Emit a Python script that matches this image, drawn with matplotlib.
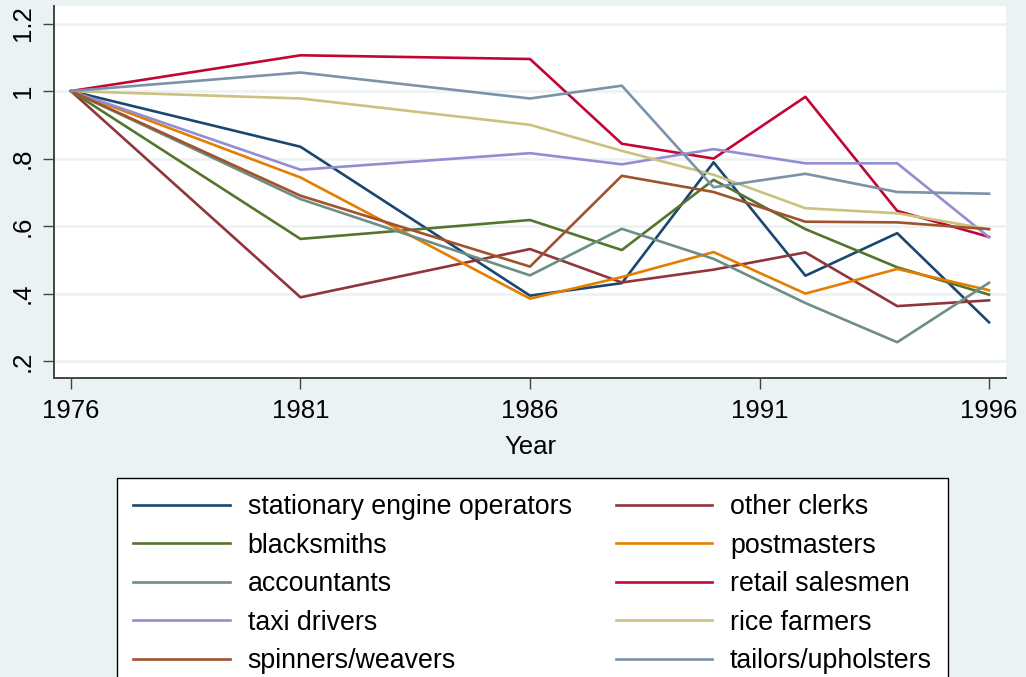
import numpy as np
import matplotlib.pyplot as plt

# years observed
years = [1976, 1981, 1986, 1988, 1990, 1992, 1994, 1996]

# relative index by occupation (1976 = 1)
stationary = [1, 0.835, 0.394, 0.431, 0.789, 0.453, 0.579, 0.315]
other_clerks = [1, 0.389, 0.532, 0.433, 0.471, 0.522, 0.363, 0.380]
blacksmiths = [1, 0.562, 0.618, 0.529, 0.737, 0.591, 0.478, 0.397]
postmasters = [1, 0.744, 0.385, 0.449, 0.523, 0.400, 0.473, 0.410]
accountants = [1, 0.680, 0.454, 0.592, 0.503, 0.372, 0.256, 0.432]
retail = [1, 1.106, 1.095, 0.844, 0.800, 0.983, 0.645, 0.568]
taxi = [1, 0.767, 0.816, 0.783, 0.828, 0.786, 0.786, 0.567]
rice = [1, 0.978, 0.900, 0.823, 0.752, 0.653, 0.638, 0.591]
spinners = [1, 0.690, 0.480, 0.749, 0.701, 0.613, 0.611, 0.591]
tailors = [1, 1.055, 0.978, 1.016, 0.715, 0.755, 0.701, 0.696]

labels = ["stationary engine operators", "other clerks", "blacksmiths",
          "postmasters", "accountants", "retail salesmen", "taxi drivers",
          "rice farmers", "spinners/weavers", "tailors/upholsters"]
series = [stationary, other_clerks, blacksmiths, postmasters, accountants,
          retail, taxi, rice, spinners, tailors]
colours = ["#1a476f", "#90353b", "#55752f", "#e37e00", "#6e8e84",
           "#c10534", "#938dd2", "#cac27e", "#a0522d", "#7b92a8"]

yticks = [0.2, 0.4, 0.6, 0.8, 1.0, 1.2]
yticklabels = [".2", ".4", ".6", ".8", "1", "1.2"]
xticks = [1976, 1981, 1986, 1991, 1996]

plt.rcParams['font.family'] = ['Liberation Sans', 'DejaVu Sans']

bg = "#eaf2f3"
fs = 18.5
fig = plt.figure(figsize=(10.26, 6.77), dpi=100, facecolor=bg)
W, H = 1026, 677
ax = fig.add_axes([54 / W, 1 - 378 / H, (1006 - 54) / W, (378 - 6) / H])
ax.set_facecolor("white")

lines = []
for vals, lab, col in zip(series, labels, colours):
    ln, = ax.plot(years, vals, color=col, lw=1.9, label=lab)
    lines.append(ln)

ax.set_xlim(1975.63, 1996.37)
ax.set_ylim(0.150, 1.252)
ax.set_yticks(yticks)
ax.set_yticklabels(yticklabels, rotation=90, va="center")
ax.set_xticks(xticks)
ax.grid(axis="y", color=bg, lw=1.8)
ax.set_axisbelow(True)
for s in ["top", "right"]:
    ax.spines[s].set_visible(False)
for s in ["left", "bottom"]:
    ax.spines[s].set_color("#444444")
    ax.spines[s].set_linewidth(1.4)
ax.tick_params(axis="both", labelsize=fs, length=8, width=1.0, color="#444444")
ax.tick_params(axis="x", pad=7)
ax.tick_params(axis="y", pad=6)
ax.set_xlabel("Year", fontsize=fs, labelpad=9)

# legend fills row by row: reorder for matplotlib's column-wise filling
order = [0, 2, 4, 6, 8, 1, 3, 5, 7, 9]
leg = fig.legend([lines[i] for i in order], [labels[i] for i in order],
                 ncol=2, loc="upper left",
                 bbox_to_anchor=(117 / W, 1 - 478 / H), fontsize=19.3,
                 frameon=True, fancybox=False, edgecolor="black",
                 facecolor="white", framealpha=1,
                 handlelength=3.6, handletextpad=0.67, columnspacing=1.64,
                 labelspacing=0.47, borderpad=0.6, borderaxespad=0)
leg.get_frame().set_linewidth(1.0)

fig.savefig("out.png", dpi=100, facecolor=bg)
